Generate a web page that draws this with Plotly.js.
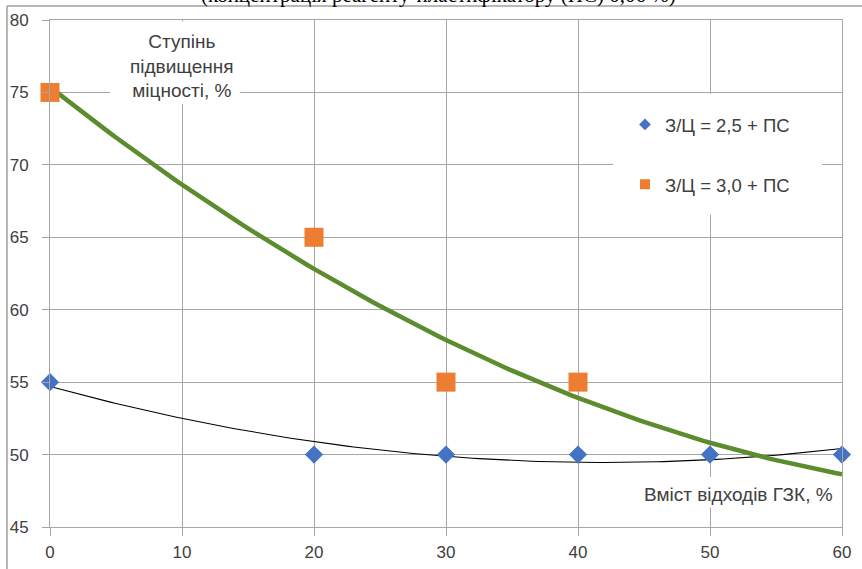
<!DOCTYPE html>
<html>
<head>
<meta charset="utf-8">
<script src="https://cdn.plot.ly/plotly-3.0.1.min.js"></script>
<style>html,body{margin:0;padding:0;background:#fff;}#chart{width:862px;height:569px;}</style>
</head>
<body>
<div id="chart"></div>
<script>
// ---- data ----
const waste1 = [0, 20, 30, 40, 50, 60];          // Вміст відходів ГЗК, %
const strength1 = [55, 50, 50, 50, 50, 50];      // З/Ц = 2,5 + ПС
const waste2 = [0, 20, 30, 40];
const strength2 = [75, 65, 55, 55];              // З/Ц = 3,0 + ПС
const seriesNames = ['З/Ц = 2,5 + ПС', 'З/Ц = 3,0 + ПС'];
const xTickVals = [0, 10, 20, 30, 40, 50, 60];
const yTickVals = [45, 50, 55, 60, 65, 70, 75, 80];
const yTitleText = 'Ступінь<br>підвищення<br>міцності, %';
const xTitleText = 'Вміст відходів ГЗК, %';
const topText = '(концентрація реагенту-пластифікатору (ПС) 0,06 %)';

// Polynomial (order 2) least-squares trendline, as in the original spreadsheet chart
function polyfit2(xs, ys) {
  let S = [0,0,0,0,0], T = [0,0,0];
  for (let i = 0; i < xs.length; i++) {
    let p = 1;
    for (let k = 0; k < 5; k++) { S[k] += p; if (k < 3) T[k] += p * ys[i]; p *= xs[i]; }
  }
  const A = [[S[0],S[1],S[2],T[0]],[S[1],S[2],S[3],T[1]],[S[2],S[3],S[4],T[2]]];
  for (let c = 0; c < 3; c++) {
    for (let r = c + 1; r < 3; r++) {
      const f = A[r][c] / A[c][c];
      for (let k = c; k < 4; k++) A[r][k] -= f * A[c][k];
    }
  }
  const co = [0,0,0];
  for (let r = 2; r >= 0; r--) {
    let s = A[r][3];
    for (let k = r + 1; k < 3; k++) s -= A[r][k] * co[k];
    co[r] = s / A[r][r];
  }
  return co;
}
function trend(xs, ys, x0, x1) {
  const c = polyfit2(xs, ys);
  const tx = [], ty = [];
  for (let i = 0; i <= 120; i++) {
    const x = x0 + (x1 - x0) * i / 120;
    tx.push(x); ty.push(c[0] + c[1] * x + c[2] * x * x);
  }
  return {tx, ty};
}
const t1 = trend(waste1, strength1, 0, 60);
const t2 = trend(waste2, strength2, 0, 60);

const txtColor = '#404040';
const gridColor = '#a6a6a6';
const font = 'Liberation Sans, Arial, sans-serif';

const traces = [
  {x: t1.tx, y: t1.ty, mode: 'lines', line: {color: '#000000', width: 1.1}, showlegend: false, hoverinfo: 'skip', cliponaxis: false},
  {x: t2.tx, y: t2.ty, mode: 'lines', line: {color: '#5b8c2e', width: 4.5}, showlegend: false, hoverinfo: 'skip', cliponaxis: false},
  {x: waste1, y: strength1, mode: 'markers', name: seriesNames[0], showlegend: false, cliponaxis: false,
   marker: {symbol: 'diamond', size: 14, color: '#4472c4'}},
  {x: waste2, y: strength2, mode: 'markers', name: seriesNames[1], showlegend: false, cliponaxis: false,
   marker: {symbol: 'square', size: 19, color: '#ed7d31'}},
  // legend entries
  {x: [null], y: [null], mode: 'markers', name: seriesNames[0], legend: 'legend',
   marker: {symbol: 'diamond', size: 9, color: '#4472c4'}},
  {x: [null], y: [null], mode: 'markers', name: seriesNames[1], legend: 'legend2',
   marker: {symbol: 'square', size: 10, color: '#ed7d31'}}
];

const legendCommon = {bgcolor: 'rgba(0,0,0,0)', borderwidth: 0, xanchor: 'left', yanchor: 'middle',
  font: {family: font, size: 18.5, color: txtColor}, itemwidth: 30};

const layout = {
  width: 862, height: 569,
  margin: {l: 50, r: 20, t: 20, b: 42},
  paper_bgcolor: '#ffffff', plot_bgcolor: '#ffffff',
  font: {family: font, size: 16, color: txtColor},
  xaxis: {range: [0, 60], tickvals: xTickVals, showgrid: true, gridcolor: gridColor, gridwidth: 1,
    zeroline: false, showline: true, linecolor: gridColor, linewidth: 1, mirror: true,
    ticks: 'outside', ticklen: 8, tickcolor: gridColor, tickfont: {size: 17, color: txtColor}, ticklabelstandoff: 2},
  yaxis: {range: [45, 80], tickvals: yTickVals, showgrid: true, gridcolor: gridColor, gridwidth: 1,
    zeroline: false, showline: true, linecolor: gridColor, linewidth: 1, mirror: true,
    ticks: 'outside', ticklen: 7, tickcolor: gridColor, tickfont: {size: 17, color: txtColor}, ticklabelstandoff: 10},
  legend: Object.assign({x: 0.726, y: 0.793}, legendCommon),
  legend2: Object.assign({x: 0.726, y: 0.675}, legendCommon),
  shapes: [
    // white boxes behind the in-plot titles and legend
    {type: 'rect', xref: 'x', yref: 'y', x0: 4.55, x1: 14.4, y0: 74.2, y1: 79.9, fillcolor: '#ffffff', line: {width: 0}, layer: 'between'},
    {type: 'rect', xref: 'x', yref: 'y', x0: 42.65, x1: 58.5, y0: 66.55, y1: 74.9, fillcolor: '#ffffff', line: {width: 0}, layer: 'between'},
    {type: 'rect', xref: 'x', yref: 'y', x0: 44.3, x1: 59.8, y0: 46.35, y1: 48.45, fillcolor: '#ffffff', line: {width: 0}, layer: 'between'},
    // outer chart frame
    {type: 'line', xref: 'paper', yref: 'paper', x0: -0.0543, x1: -0.0543, y0: 1.0276, y1: -0.1, line: {color: '#a0a0a0', width: 1.5}},
    {type: 'line', xref: 'paper', yref: 'paper', x0: -0.0543, x1: 1.1, y0: 1.0276, y1: 1.0276, line: {color: '#a0a0a0', width: 1.5}}
  ],
  annotations: [
    {xref: 'x', yref: 'y', x: 10, y: 76.83, text: yTitleText, showarrow: false, xanchor: 'center', yanchor: 'middle',
     font: {family: font, size: 19, color: txtColor}, align: 'center'},
    {xref: 'x', yref: 'y', x: 59.45, y: 47.22, text: xTitleText, showarrow: false, xanchor: 'right', yanchor: 'middle',
     font: {family: font, size: 19, color: txtColor}},
    {xref: 'paper', yref: 'paper', x: 0.49, y: 1.05, text: topText, showarrow: false, xanchor: 'center', yanchor: 'middle',
     font: {family: 'Liberation Serif, Times New Roman, serif', size: 21, color: '#000000'}}
  ]
};

Plotly.newPlot('chart', traces, layout, {displayModeBar: false, staticPlot: true});
</script>
</body>
</html>
